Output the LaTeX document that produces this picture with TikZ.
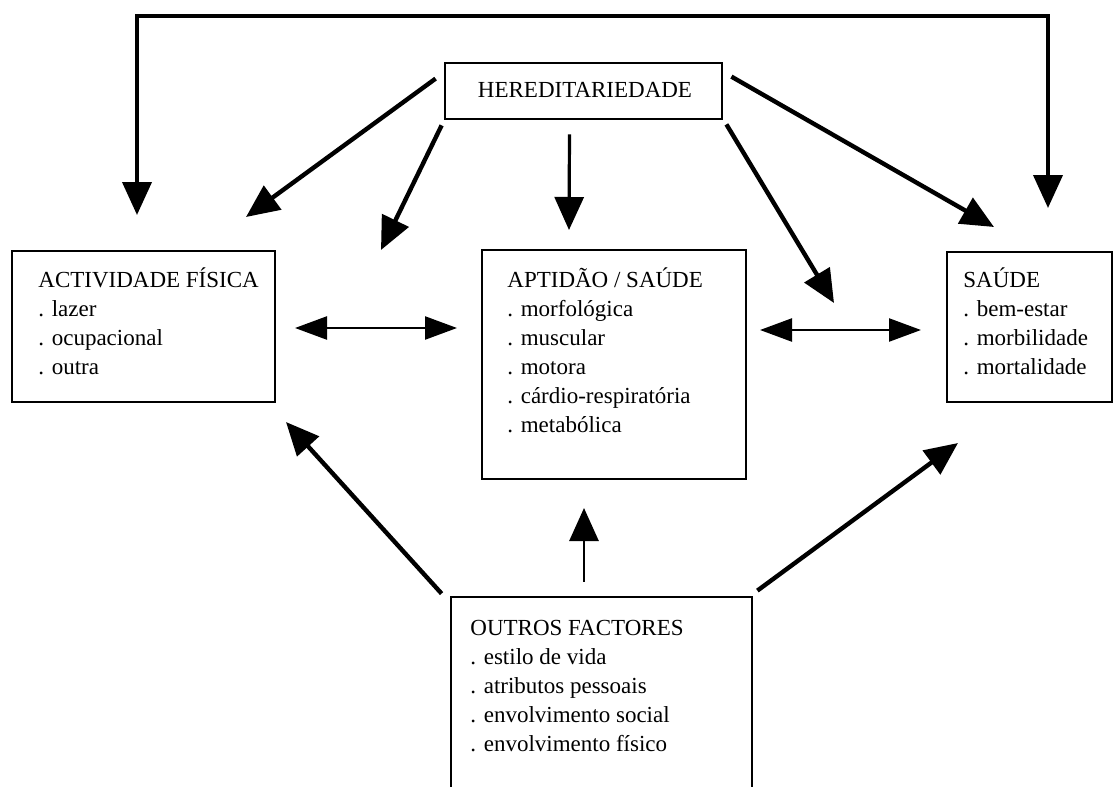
\documentclass[tikz,border=0pt]{standalone}
\usepackage{fontspec}
\setmainfont{Liberation Serif}
\usetikzlibrary{arrows.meta,positioning,fit}
\newcommand{\itemlist}[1]{\begin{tabular}[t]{@{}l@{}}#1\end{tabular}}

\begin{document}
\begin{tikzpicture}[
  x=0.5pt, y=-0.5pt,
  font=\fontsize{11.5}{14.5}\selectfont,
  frame/.style={draw, line width=1.4pt, inner sep=0pt},
  txt/.style={anchor=base west, inner sep=0pt},
  arrow/.style={-{Triangle[length=16.5pt, width=14.5pt]}, line width=2.2pt},
  looparrow/.style={{Triangle[length=16.5pt, width=14.5pt]}-{Triangle[length=16.5pt, width=14.5pt]},
                    line width=2pt},
  twoway/.style={{Triangle[length=16pt, width=11.5pt]}-{Triangle[length=16pt, width=11.5pt]},
                 line width=1.2pt},
]
  \useasboundingbox (0,0) rectangle (1114,787);
  \clip (0,0) rectangle (1114,787);

  % Boxes
  \node[frame, fit={(445,63) (722,119)}] (hered) {};
  \node[frame, fit={(12,251) (275,402)}] (actfis) {};
  \node[frame, fit={(482,250) (746,479)}] (aptid) {};
  \node[frame, fit={(947,252) (1112,402)}] (saude) {};
  \node[frame, fit={(451,597) (752,800)}] (outros) {};

  \node[anchor=base, inner sep=0pt] (heredtxt) at (585,97) {HEREDITARIEDADE};
  \node[txt] (actfistxt) at (38,287)
    {\itemlist{ACTIVIDADE FÍSICA\\. lazer\\. ocupacional\\. outra}};
  \node[txt] (aptidtxt) at (507,287)
    {\itemlist{APTIDÃO / SAÚDE\\. morfológica\\. muscular\\. motora\\. cárdio-respiratória\\. metabólica}};
  \node[txt] (saudetxt) at (963,287)
    {\itemlist{SAÚDE\\. bem-estar\\. morbilidade\\. mortalidade}};
  \node[txt] (outrostxt) at (470,635)
    {\itemlist{OUTROS FACTORES\\. estilo de vida\\. atributos pessoais\\. envolvimento social\\. envolvimento físico}};

  % Loop over the top
  \coordinate (loopl) at (137,16);
  \coordinate (loopr) at (1048,16);
  \coordinate (actfistop) at (137,215);
  \coordinate (saudetop) at (1048,208);
  \draw[looparrow] (actfistop) -- (loopl) -- (loopr) -- (saudetop);

  % From heredity
  \coordinate (h1) at (246,217);
  \coordinate (h2) at (381,250);
  \coordinate (h3) at (569,230);
  \coordinate (h4) at (834,303);
  \coordinate (h5) at (994,227);
  \draw[arrow] ([shift={(-8,17)}]hered.north west) -- (h1);
  \draw[arrow] ([shift={(-2,5)}]hered.south west) -- (h2);
  \draw[arrow, line width=1.6pt] ([shift={(-14,14)}]hered.south) -- (h3);
  \draw[arrow] ([shift={(3,4)}]hered.south east) -- (h4);
  \draw[arrow] ([shift={(8,15)}]hered.north east) -- (h5);

  % Two-way links
  \coordinate (a1) at (295,328);
  \coordinate (a2) at (457,328);
  \coordinate (s1) at (760,330);
  \coordinate (s2) at (921,330);
  \draw[twoway] (a1) -- (a2);
  \draw[twoway] (s1) -- (s2);

  % From other factors
  \coordinate (o1) at (286,422);
  \coordinate (o2) at (584,508);
  \coordinate (o3) at (958,443);
  \draw[arrow] ([shift={(-8,-2)}]outros.north west) -- (o1);
  \draw[arrow, line width=1.4pt] ([shift={(-17.5,-14)}]outros.north) -- (o2);
  \draw[arrow] ([shift={(4,-5)}]outros.north east) -- (o3);
\end{tikzpicture}
\end{document}
